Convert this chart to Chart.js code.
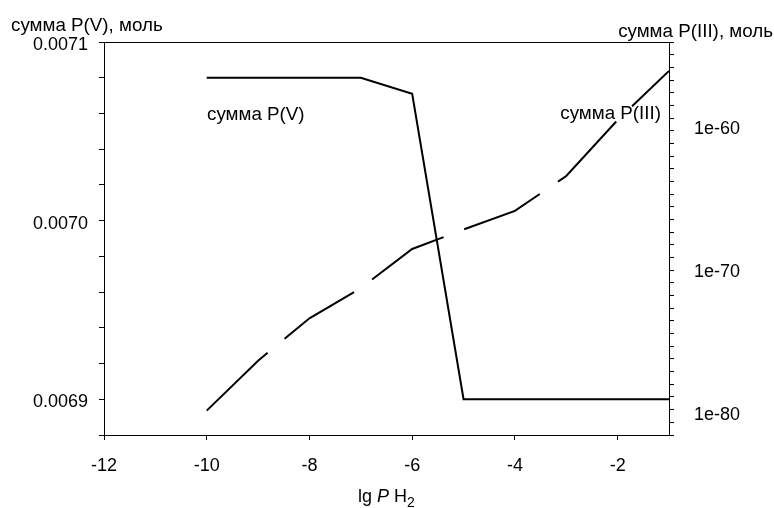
<!DOCTYPE html>
<html>
<head>
<meta charset="utf-8">
<script src="https://cdn.jsdelivr.net/npm/chart.js@4/dist/chart.umd.min.js"></script>
<style>
  html, body { margin: 0; padding: 0; background: #fff; }
  #wrap { width: 774px; height: 508px; }
</style>
</head>
<body>
<div id="wrap"><canvas id="c" width="774" height="508"></canvas></div>
<script>
// lg P(H2) values of the computed points
const lgPH2 = [-10, -9, -8, -7, -6, -5, -4, -3, -2, -1];
// total P(V), mol (left axis)
const sumPV = [0.00708, 0.00708, 0.00708, 0.00708, 0.007071, 0.0069, 0.0069, 0.0069, 0.0069, 0.0069];
// total P(III), mol (right axis, logarithmic)
const sumPIII = [2.1e-80, 6.4e-77, 5.8e-74, 7.5e-72, 4.0e-69, 9.1e-68, 1.8e-66, 4.9e-64, 4.0e-60, 1.05e-56];

// axis ticks and labels
const xTickValues = [-12, -10, -8, -6, -4, -2];
const leftTickLabels = ['0.0069', '0.0070', '0.0071'];
const rightTickLabels = ['1e-60', '1e-70', '1e-80'];

const seriesNames = ['сумма P(V)', 'сумма P(III)'];
const leftAxisTitle = 'сумма P(V), моль';
const rightAxisTitle = 'сумма P(III), моль';

const FONT = '"Liberation Sans", Arial, sans-serif';
const FS = 18;
const FS_TEXT = 18.8;
const RIGHT_MINOR_STEPS = 31;

const textPlugin = {
  id: 'chartTexts',
  afterDraw(chart) {
    const ctx = chart.ctx;
    const a = chart.chartArea;
    ctx.save();
    ctx.fillStyle = '#000';
    ctx.textBaseline = 'alphabetic';
    ctx.font = FS_TEXT + 'px ' + FONT;

    // axis titles above the plot
    ctx.textAlign = 'left';
    ctx.fillText(leftAxisTitle, 11, 31);
    ctx.textAlign = 'right';
    ctx.fillText(rightAxisTitle, 773, 37);

    // series captions inside the plot
    ctx.textAlign = 'left';
    ctx.fillText(seriesNames[0], a.left + 103, a.top + 78);
    ctx.textAlign = 'right';
    ctx.fillText(seriesNames[1], a.right - 8, a.top + 77);

    // x axis title: lg P H2 (italic P, subscript 2)
    const parts = [
      { t: 'lg ', f: FS + 'px ' + FONT, dy: 0 },
      { t: 'P', f: 'italic ' + FS + 'px ' + FONT, dy: 0 },
      { t: ' H', f: FS + 'px ' + FONT, dy: 0 },
      { t: '2', f: '14px ' + FONT, dy: 5 }
    ];
    let total = 0;
    parts.forEach(p => { ctx.font = p.f; p.w = ctx.measureText(p.t).width; total += p.w; });
    let x = (a.left + a.right) / 2 - total / 2;
    const base = 502;
    ctx.textAlign = 'left';
    parts.forEach(p => { ctx.font = p.f; ctx.fillText(p.t, x, base + p.dy); x += p.w; });
    ctx.restore();
  }
};

const axisCommon = {
  border: { display: true, color: '#000', width: 1 },
  grid: { drawOnChartArea: false, drawTicks: true, tickLength: 5, tickColor: '#000', tickWidth: 1 },
};

new Chart(document.getElementById('c'), {
  type: 'line',
  data: {
    datasets: [
      {
        label: seriesNames[0],
        data: lgPH2.map((x, i) => ({ x, y: sumPV[i] })),
        yAxisID: 'yL',
        borderColor: '#000',
        borderWidth: 2,
        pointRadius: 0,
        tension: 0,
        fill: false
      },
      {
        label: seriesNames[1],
        data: lgPH2.map((x, i) => ({ x, y: sumPIII[i] })),
        yAxisID: 'yR',
        borderColor: '#000',
        borderWidth: 2,
        borderDash: [84, 22],
        pointRadius: 0,
        tension: 0,
        fill: false
      }
    ]
  },
  options: {
    responsive: false,
    devicePixelRatio: 1,
    animation: false,
    layout: { padding: 0 },
    plugins: { legend: { display: false }, tooltip: { enabled: false } },
    scales: {
      x: {
        type: 'linear',
        position: 'bottom',
        min: -12,
        max: -1,
        ...axisCommon,
        afterFit: s => { s.height = 73; },
        afterBuildTicks: s => { s.ticks = xTickValues.map(v => ({ value: v })); },
        ticks: {
          autoSkip: false,
          maxRotation: 0,
          padding: 15,
          color: '#000',
          font: { family: FONT, size: FS },
          callback: v => String(v)
        }
      },
      xTop: {
        type: 'linear',
        position: 'top',
        min: -12,
        max: -1,
        border: { display: true, color: '#000', width: 1 },
        grid: { display: false, drawTicks: false },
        ticks: { display: false },
        afterFit: s => { s.height = 42; }
      },
      yL: {
        type: 'linear',
        position: 'left',
        min: 0.00688,
        max: 0.0071,
        ...axisCommon,
        afterFit: s => { s.width = 104; },
        afterBuildTicks: s => {
          const t = [];
          for (let k = 688; k <= 710; k += 2) t.push({ value: k / 100000 });
          s.ticks = t;
        },
        ticks: {
          autoSkip: false,
          padding: 11,
          labelOffset: 3,
          color: '#000',
          font: { family: FONT, size: FS },
          callback: v => leftTickLabels.find(l => Math.abs(parseFloat(l) - v) < 1e-9) || ''
        }
      },
      yR: {
        type: 'logarithmic',
        position: 'right',
        min: 4.2e-82,
        max: 1.1e-54,
        border: { display: true, color: '#000', width: 1 },
        grid: {
          drawOnChartArea: false,
          drawTicks: true,
          tickLength: 5,
          tickWidth: 1,
          // labelled ticks carry only their text; the evenly spaced minor marks carry the dashes
          tickColor: c => (c.tick && c.tick.labelled ? 'rgba(0,0,0,0)' : '#000')
        },
        afterFit: s => { s.width = 105; },
        afterBuildTicks: s => {
          const lo = Math.log10(s.min), hi = Math.log10(s.max);
          const t = [];
          for (let n = 0; n <= RIGHT_MINOR_STEPS; n++) {
            t.push({ value: Math.pow(10, lo + (hi - lo) * n / RIGHT_MINOR_STEPS) });
          }
          rightTickLabels.forEach(l => t.push({ value: parseFloat(l), labelled: true }));
          t.sort((p, q) => p.value - q.value);
          s.ticks = t;
        },
        ticks: {
          autoSkip: false,
          padding: 20,
          color: '#000',
          font: { family: FONT, size: FS },
          callback: (v, i, ticks) => (ticks[i] && ticks[i].labelled
            ? (rightTickLabels.find(l => Math.abs(Math.log10(parseFloat(l)) - Math.log10(v)) < 1e-6) || '')
            : '')
        }
      }
    }
  },
  plugins: [textPlugin]
});
</script>
</body>
</html>
